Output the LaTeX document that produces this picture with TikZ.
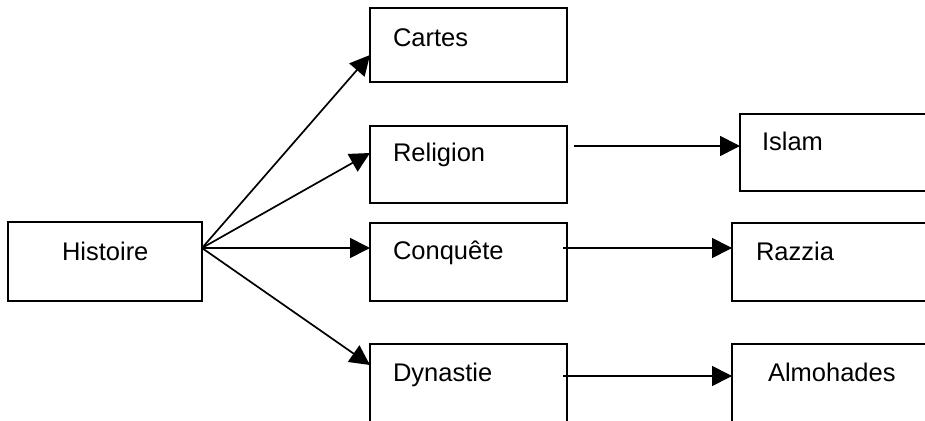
\documentclass[tikz,border=0pt]{standalone}
\usepackage{fontspec}
\setmainfont{Liberation Sans}
\usetikzlibrary{arrows.meta}
\begin{document}
\begin{tikzpicture}[x=1pt,y=-1pt,
  box/.style={draw=black,line width=2pt,rectangle,inner sep=0pt,outer sep=0pt},
  lbl/.style={anchor=base west,inner sep=0pt,outer sep=0pt,font=\fontsize{25.5}{30}\selectfont},
  arr/.style={line width=1.7pt,-{Triangle[length=20pt,width=20pt]}}]
\useasboundingbox (0,0) rectangle (925,420);
\clip (0,0) rectangle (925,420);
% boxes
\node[box,minimum width=194pt,minimum height=79pt] (hist) at (105,261.5) {};
\node[box,minimum width=197pt,minimum height=74pt] (cartes) at (468.5,45) {};
\node[box,minimum width=197pt,minimum height=77pt] (religion) at (468.5,164.5) {};
\node[box,minimum width=197pt,minimum height=78pt] (conq) at (468.5,262) {};
\node[box,minimum width=197pt,minimum height=78pt] (dyn) at (468.5,383) {};
\node[box,minimum width=200pt,minimum height=77pt] (islam) at (840,152.5) {};
\node[box,minimum width=208pt,minimum height=78pt] (razzia) at (836,262) {};
\node[box,minimum width=208pt,minimum height=78pt] (almo) at (836,383) {};
% labels
\node[lbl] (thist) at (62,260.7) {Histoire};
\node[lbl] (tcartes) at (393,46) {Cartes};
\node[lbl] (treligion) at (393,161.5) {Religion};
\node[lbl] (tconq) at (393,259) {Conquête};
\node[lbl] (tdyn) at (393,381) {Dynastie};
\node[lbl] (tislam) at (762,150) {Islam};
\node[lbl] (trazzia) at (756,260) {Razzia};
\node[lbl] (talmo) at (768,381) {Almohades};
% connectors
\coordinate (fan) at ([yshift=13.5pt]hist.east);
\draw[arr] (fan) -- ([yshift=-10pt]cartes.west);
\draw[arr] (fan) -- ([yshift=11.5pt]religion.west);
\draw[arr] (fan) -- ([yshift=14pt]conq.west);
\draw[arr] (fan) -- ([yshift=18pt]dyn.west);
\draw[arr] ([xshift=7pt,yshift=18.5pt]religion.east) -- ([yshift=6.5pt]islam.west);
\draw[arr] ([xshift=-4pt,yshift=14pt]conq.east) -- ([yshift=14pt]razzia.west);
\draw[arr] ([xshift=-4pt,yshift=7pt]dyn.east) -- ([yshift=7pt]almo.west);
\end{tikzpicture}
\end{document}
